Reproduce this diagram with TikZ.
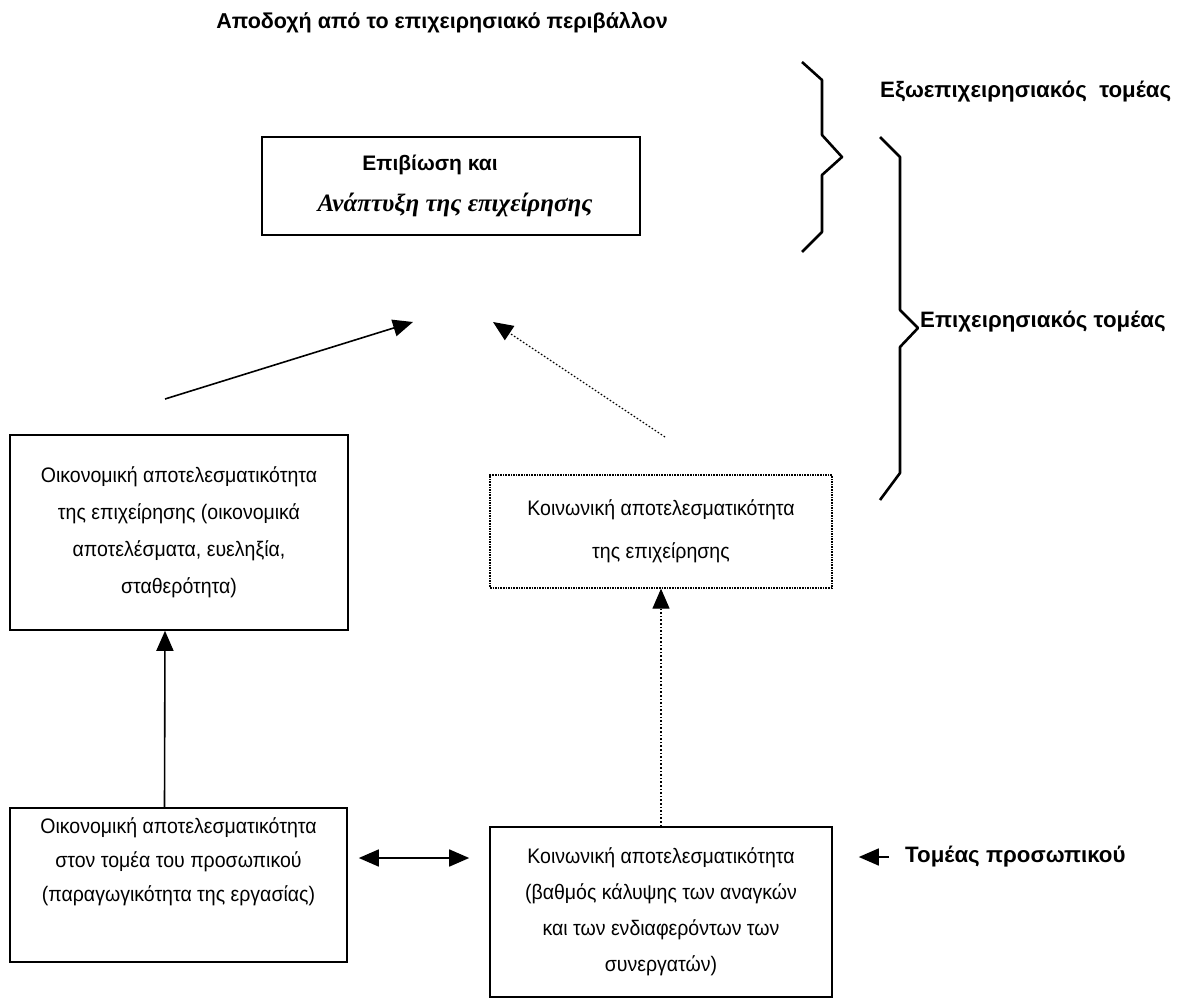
\documentclass[tikz,border=0pt]{standalone}
\usepackage{fontspec}
\setmainfont{Liberation Sans}
\newfontfamily\narrowfont[FakeStretch=0.93]{Liberation Sans}
\newfontfamily\serifitfont{Liberation Serif}
\usetikzlibrary{arrows.meta}
\newcommand\boxfont{\narrowfont\fontsize{21}{36}\selectfont}
\newcommand\lblfont{\bfseries\fontsize{22.3}{26}\selectfont}

\begin{document}
\begin{tikzpicture}[x=1pt,y=-1pt,
  box/.style={draw,line width=1.6pt,inner sep=0pt,align=center,font=\boxfont},
  dotbox/.style={box,densely dotted,line width=1.3pt},
  lbl/.style={font=\lblfont,inner sep=0pt},
  tip/.style={-{Triangle[length=20pt,width=17pt]},line width=1.6pt},
  dtip/.style={{Triangle[length=20pt,width=17pt]}-{Triangle[length=20pt,width=17pt]},line width=1.6pt},
  brace/.style={line width=2.6pt,line join=round}]
\useasboundingbox (0,0) rectangle (1191,1000);

% top part
\node[lbl,font=\bfseries\fontsize{21.5}{26}\selectfont] (accept) at (442,23) {Αποδοχή από το επιχειρησιακό περιβάλλον};
\node[box,minimum width=378pt,minimum height=98pt] (survive) at (451,186) {};
\node[lbl,font=\bfseries\fontsize{21}{26}\selectfont] (survA) at (430,165) {Επιβίωση και};
\node[inner sep=0pt,font=\serifitfont\bfseries\itshape\fontsize{25}{28}\selectfont] (survB) at (455,205) {Ανάπτυξη της επιχείρησης};

% braces
\draw[brace] (802,62) -- (822,80) -- (822,135) -- (842,157) -- (822,175) -- (822,232) -- (802,252);
\node[lbl,anchor=west] (outside) at (880,92) {Εξωεπιχειρησιακός\ \ τομέας};
\draw[brace] (880,137) -- (900,157) -- (900,310) -- (918,328) -- (900,347) -- (900,473) -- (880,500);
\node[lbl,anchor=west] (inside) at (920,322) {Επιχειρησιακός τομέας};

% middle boxes
\node[box,minimum width=338pt,minimum height=195pt] (econ) at (179,532.5)
  {Οικονομική αποτελεσματικότητα\\[1pt]της επιχείρησης (οικονομικά\\[1pt]αποτελέσματα, ευεληξία,\\[1pt]σταθερότητα)};
\node[dotbox,minimum width=342pt,minimum height=113pt] (social) at (661,531.5)
  {Κοινωνική αποτελεσματικότητα\\[7pt]της επιχείρησης};

\coordinate (econtail) at (165,399);
\coordinate (econhead) at (413,322);
\coordinate (socialtail) at (665,437);
\coordinate (socialhead) at (493,322);
\draw[tip] (econtail) -- (econhead);
\draw[tip,dotted,line width=1.2pt] (socialtail) -- (socialhead);

% bottom boxes
\node[box,minimum width=337pt,minimum height=154pt] (econpers) at (178.5,885) {};
\node[inner sep=0pt,align=center,font=\boxfont] (econperstext) at (178.5,862)
  {Οικονομική αποτελεσματικότητα\\[-2pt]στον τομέα του προσωπικού\\[-2pt](παραγωγικότητα της εργασίας)};
\node[box,minimum width=342pt,minimum height=170pt] (socpers) at (661,912)
  {Κοινωνική αποτελεσματικότητα\\(βαθμός κάλυψης των αναγκών\\και των ενδιαφερόντων των\\συνεργατών)};
\node[lbl,anchor=west] (staff) at (905,857) {Τομέας προσωπικού};

\draw[tip] ([xshift=-14pt]econpers.north) -- ([xshift=-14pt]econ.south);
\draw[tip,dotted,line width=1.2pt] (socpers.north) -- (social.south);
\draw[dtip,shorten <=11pt,shorten >=20pt] ([yshift=27pt]econpers.east) -- ([yshift=54pt]socpers.west);
\draw[tip,shorten <=16pt,shorten >=26pt] (staff.west) -- (socpers.east |- staff.west);
\end{tikzpicture}
\end{document}
